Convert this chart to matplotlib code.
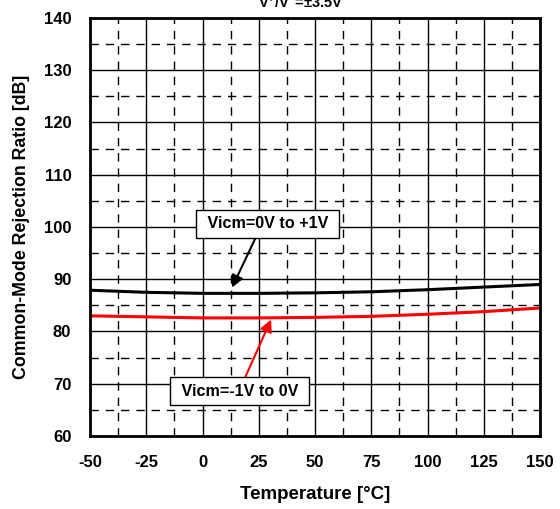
import matplotlib
matplotlib.use("Agg")
import matplotlib.pyplot as plt
from matplotlib.ticker import MultipleLocator

plt.rcParams['font.family'] = ['Liberation Sans', 'DejaVu Sans']
plt.rcParams['font.weight'] = 'bold'
plt.rcParams['axes.unicode_minus'] = False
plt.rcParams['mathtext.fontset'] = 'custom'
plt.rcParams['mathtext.rm'] = 'Liberation Sans:bold'
plt.rcParams['mathtext.it'] = 'Liberation Sans:bold'

temps = [-50, -25, 0, 25, 50, 75, 100, 125, 150]
cmrr_pos = [87.9, 87.5, 87.3, 87.3, 87.4, 87.6, 88.0, 88.5, 89.0]
cmrr_neg = [83.0, 82.8, 82.6, 82.6, 82.7, 82.9, 83.3, 83.8, 84.5]
label_pos = "Vicm=0V to +1V"
label_neg = "Vicm=-1V to 0V"
title = "V$^{+}$/V$^{-}$=±3.5V"
xticks = [-50, -25, 0, 25, 50, 75, 100, 125, 150]
yticks = [60, 70, 80, 90, 100, 110, 120, 130, 140]

fig = plt.figure(figsize=(5.6, 5.09), dpi=100)
ax = fig.add_axes([90/560, 73/509, 450/560, 418/509])

ax.set_xlim(-50, 150)
ax.set_ylim(60, 140)
ax.set_xticks(xticks)
ax.set_yticks(yticks)
ax.xaxis.set_minor_locator(MultipleLocator(12.5))
ax.yaxis.set_minor_locator(MultipleLocator(5))
ax.grid(which='major', color='black', linewidth=1.0, linestyle='-')
ax.grid(which='minor', color='black', linewidth=1.0, linestyle=(0, (6, 5)))
ax.set_axisbelow(True)
ax.tick_params(which='both', length=0, labelsize=12)
ax.tick_params(axis='x', pad=14)
ax.tick_params(axis='y', pad=13.5)
for lbl in ax.get_xticklabels() + ax.get_yticklabels():
    lbl.set_fontweight('bold')
for s in ax.spines.values():
    s.set_linewidth(2)

ax.plot(temps, cmrr_pos, color='black', linewidth=2.2)
ax.plot(temps, cmrr_neg, color='#ff0000', linewidth=2.2)

ax.set_xlabel("Temperature [°C]", fontsize=13.5, fontweight='bold', labelpad=11)
ax.set_ylabel("Common-Mode Rejection Ratio [dB]", fontsize=12.8, fontweight='bold', labelpad=10)

bbox = dict(boxstyle='square,pad=0.4', facecolor='white', edgecolor='black', linewidth=1)
ax.annotate(" " + label_pos + " ", xy=(13.1, 88.4), xytext=(29.0, 100.6), fontsize=11.6,
            fontweight='bold', ha='center', va='center', bbox=bbox,
            arrowprops=dict(arrowstyle='-|>', color='black', lw=1.5, mutation_scale=18,
                            shrinkA=0, shrinkB=0, relpos=(0.43, 0)))
ax.annotate(" " + label_neg + " ", xy=(30.5, 82.3), xytext=(16.6, 68.6), fontsize=11.6,
            fontweight='bold', ha='center', va='center', bbox=bbox,
            arrowprops=dict(arrowstyle='-|>', color='#ff0000', lw=1.5, mutation_scale=18,
                            shrinkA=0, shrinkB=0, relpos=(0.52, 1)))

fig.text(301/560, 1 - 8/509, title, ha='center', va='baseline', fontsize=10.5, fontweight='bold')

fig.savefig("out.png", dpi=100)
